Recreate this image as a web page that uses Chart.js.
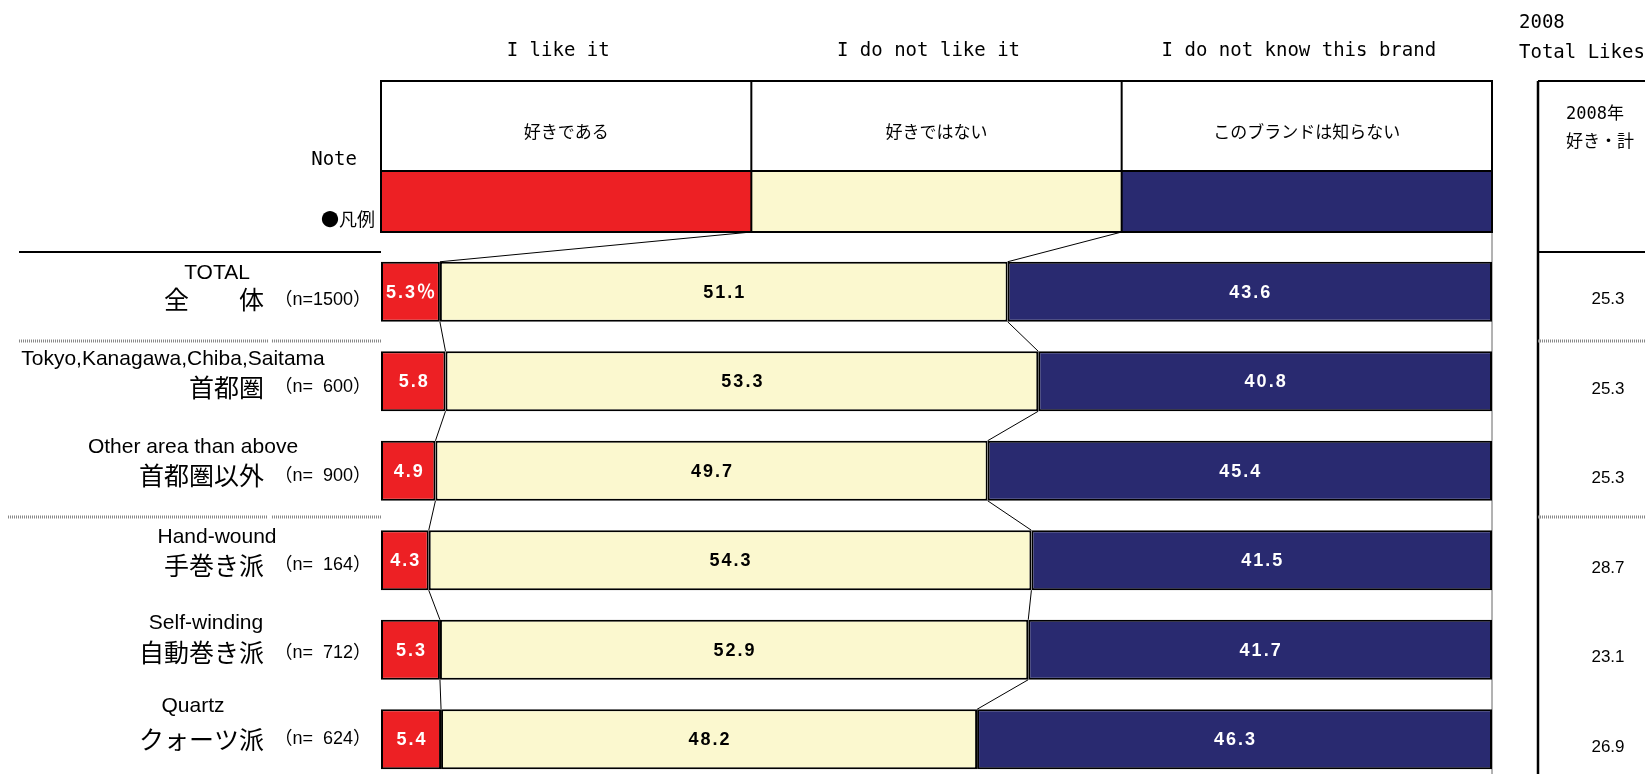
<!DOCTYPE html>
<html>
<head>
<meta charset="utf-8">
<script src="https://cdn.jsdelivr.net/npm/chart.js"></script>
<style>
  html, body { margin: 0; padding: 0; background: #fff; overflow: hidden; }
  canvas { display: block; }
</style>
</head>
<body>
<canvas id="myChart" width="1645" height="800"></canvas>
<script>
// values
const groupsEn = ["TOTAL", "Tokyo,Kanagawa,Chiba,Saitama", "Other area than above", "Hand-wound", "Self-winding", "Quartz"];
const groupsJa = ["全　　体", "首都圏", "首都圏以外", "手巻き派", "自動巻き派", "クォーツ派"];
const sampleN = [1500, 600, 900, 164, 712, 624];
const seriesEn = ["I like it", "I do not like it", "I do not know this brand"];
const seriesJa = ["好きである", "好きではない", "このブランドは知らない"];
const likeIt = [5.3, 5.8, 4.9, 4.3, 5.3, 5.4];
const dislikeIt = [51.1, 53.3, 49.7, 54.3, 52.9, 48.2];
const dontKnow = [43.6, 40.8, 45.4, 41.5, 41.7, 46.3];
const totalLikes2008 = [25.3, 25.3, 25.3, 28.7, 23.1, 26.9];

const series = [likeIt, dislikeIt, dontKnow];
const barColors = ["#ed2024", "#fbf8cf", "#292a70"];
const textColors = ["#fff", "#000", "#fff"];

const mono = '"DejaVu Sans Mono", "Noto Sans CJK JP", monospace';
const jp = '"Noto Sans CJK JP", sans-serif';
const arial = '"Liberation Sans", Arial, "Noto Sans CJK JP", sans-serif';

// the row captions sit in loose text boxes, so each one gets its own nudge
const enX = [217, 173, 193, 217, 206, 193];
const enDy = [-19, -22, -24, -23, -27, -33];
const jaDy = [8, 6, 5, 5, 3, 0];

const boxTop = 81, headBottom = 171, legBottom = 232, sepY = [341, 517];

// 100% stacked like the original: each row is scaled to its own total
const rowSum = likeIt.map((v, i) => v + dislikeIt[i] + dontKnow[i]);

function text(ctx, s, x, y, font, color, align) {
  ctx.font = font;
  ctx.fillStyle = color || "#000";
  ctx.textAlign = align || "center";
  ctx.textBaseline = "middle";
  ctx.fillText(s, x, y);
}

function line(ctx, x1, y1, x2, y2, w, color) {
  ctx.beginPath();
  ctx.lineWidth = w;
  ctx.strokeStyle = color;
  ctx.moveTo(x1, y1);
  ctx.lineTo(x2, y2);
  ctx.stroke();
}

const decor = {
  id: "decor",
  beforeDatasetsDraw(chart) {
    const ctx = chart.ctx;
    const a = chart.chartArea;
    const w = a.right - a.left;
    ctx.save();
    // plot frame, right side only
    line(ctx, a.right, boxTop, a.right, chart.height, 1, "#666");

    // legend table on top
    for (let k = 0; k < 3; k++) {
      const x0 = a.left + w * k / 3, x1 = a.left + w * (k + 1) / 3;
      ctx.fillStyle = barColors[k];
      ctx.fillRect(x0, headBottom, x1 - x0, legBottom - headBottom);
      text(ctx, seriesEn[k], (x0 + x1) / 2 - 8, 51, "19px " + mono);
      text(ctx, seriesJa[k], (x0 + x1) / 2, 132, "17px " + jp);
    }
    ctx.lineWidth = 2;
    ctx.strokeStyle = "#000";
    ctx.strokeRect(a.left, boxTop, w, legBottom - boxTop);
    line(ctx, a.left, headBottom, a.right, headBottom, 2, "#000");
    line(ctx, a.left + w / 3, boxTop, a.left + w / 3, legBottom, 2, "#000");
    line(ctx, a.left + 2 * w / 3, boxTop, a.left + 2 * w / 3, legBottom, 2, "#000");
    text(ctx, "Note", 357, 160, "19px " + mono, "#000", "right");
    text(ctx, "●凡例", 375, 219, "18px " + jp, "#000", "right");

    // left rules
    line(ctx, 19, 252, a.left, 252, 2, "#000");
    ctx.setLineDash([1, 1]);
    line(ctx, 19, sepY[0], 268, sepY[0], 3, "#888");
    line(ctx, 272, sepY[0], a.left, sepY[0], 3, "#888");
    line(ctx, 8, sepY[1], 268, sepY[1], 3, "#888");
    line(ctx, 272, sepY[1], a.left, sepY[1], 3, "#888");
    ctx.setLineDash([]);

    // right-hand 2008 table
    const tx = 1538;
    text(ctx, "2008", 1519, 23, "19px " + mono, "#000", "left");
    text(ctx, "Total Likes", 1519, 53, "19px " + mono, "#000", "left");
    line(ctx, tx, boxTop, chart.width, boxTop, 2, "#000");
    line(ctx, tx, boxTop, tx, chart.height, 2.5, "#000");
    line(ctx, tx, 252, chart.width, 252, 2, "#000");
    ctx.setLineDash([1, 1]);
    line(ctx, tx, sepY[0], chart.width, sepY[0], 3, "#888");
    line(ctx, tx, sepY[1], chart.width, sepY[1], 3, "#888");
    ctx.setLineDash([]);
    text(ctx, "2008年", 1566, 115, "17px " + mono, "#000", "left");
    text(ctx, "好き・計", 1566, 141, "17px " + jp, "#000", "left");
    ctx.restore();
  },
  afterDatasetsDraw(chart) {
    const ctx = chart.ctx;
    const a = chart.chartArea;
    const w = a.right - a.left;
    const metas = [0, 1, 2].map((d) => chart.getDatasetMeta(d));
    ctx.save();

    // series lines from the legend down through the bars
    for (let k = 0; k < 2; k++) {
      let px = a.left + w * (k + 1) / 3, py = legBottom;
      metas[k].data.forEach((el) => {
        const p = el.getProps(["x", "y", "height"], true);
        line(ctx, px, py, p.x, p.y - p.height / 2, 1, "#000");
        px = p.x;
        py = p.y + p.height / 2;
      });
    }

    // values inside the bars
    ctx.letterSpacing = "2px";
    metas.forEach((meta, d) => {
      meta.data.forEach((el, i) => {
        const p = el.getProps(["x", "y", "base"], true);
        let s = series[d][i].toFixed(1);
        if (d === 0 && i === 0) s += "％";
        text(ctx, s, (p.x + p.base) / 2 + 1, p.y + 1, "bold 18px " + arial, textColors[d]);
      });
    });
    ctx.letterSpacing = "0px";

    // row captions and the 2008 column
    const ys = chart.scales.y;
    groupsEn.forEach((g, i) => {
      const yc = ys.getPixelForValue(i);
      text(ctx, g, enX[i], yc + enDy[i], "21px " + arial);
      text(ctx, groupsJa[i], 264, yc + jaDy[i], "25px " + jp, "#000", "right");
      let n = String(sampleN[i]);
      while (n.length < 4) n = "  " + n;
      text(ctx, "（n=" + n + "）", 371, yc + jaDy[i], "18px " + arial, "#000", "right");
      text(ctx, totalLikes2008[i].toFixed(1), 1608, yc + 8, "17px " + arial);
    });
    ctx.restore();
  }
};

new Chart("myChart", {
  type: "bar",
  data: {
    labels: groupsJa,
    datasets: series.map((vals, d) => ({
      label: seriesEn[d],
      data: vals.map((v, i) => v / rowSum[i] * 100),
      backgroundColor: barColors[d],
      borderColor: "#000",
      borderWidth: 2,
      borderSkipped: false,
      barPercentage: 0.67,
      categoryPercentage: 1
    }))
  },
  options: {
    indexAxis: "y",
    responsive: false,
    animation: false,
    devicePixelRatio: 1,
    layout: { padding: { left: 381, right: 153, top: 247, bottom: 16 } },
    scales: {
      x: { stacked: true, min: 0, max: 100, display: false },
      y: { stacked: true, display: false }
    },
    plugins: {
      legend: { display: false },
      tooltip: { enabled: false }
    }
  },
  plugins: [decor]
});
</script>
</body>
</html>
